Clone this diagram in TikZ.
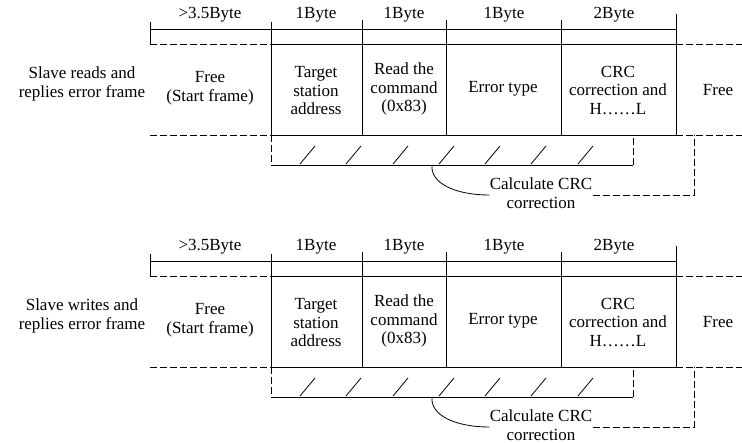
\documentclass[tikz,border=0pt]{standalone}
\usepackage{fontspec}
\setmainfont{Liberation Serif}
\usepackage{tikz}

\begin{document}
\begin{tikzpicture}[x=1pt,y=-1pt,line width=0.8pt,
    txt/.style={align=center,inner sep=0pt,font=\fontsize{17}{18.5}\selectfont},
    dsh/.style={dash pattern=on 7pt off 3pt}]
  \useasboundingbox (0,0) rectangle (742,443);
  \foreach \dy/\act/\n in {0/reads/a,232/writes/b}{
    \begin{scope}[shift={(0,\dy)}]
      % byte lengths
      \node[txt] (lenfree\n) at (210,15) {>3.5Byte};
      \node[txt] (lenaddr\n) at (316,15) {1Byte};
      \node[txt] (lencmd\n) at (404,15) {1Byte};
      \node[txt] (lenerr\n) at (504,15) {1Byte};
      \node[txt] (lencrc\n) at (614,15) {2Byte};
      % frame fields
      \node[txt] (title\n) at (82,84) {Slave \act\ and\\replies error frame};
      \node[txt] (start\n) at (210,88) {Free\\(Start frame)};
      \node[txt] (addr\n) at (316,91) {Target\\station\\address};
      \node[txt] (cmd\n) at (404,89) {Read the\\command\\(0x83)};
      \node[txt] (err\n) at (503,89) {Error type};
      \node[txt] (crc\n) at (618,90) {CRC\\correction and\\H……L};
      \node[txt] (end\n) at (718,90) {Free};
      \node[txt] (calc\n) at (541,193) {Calculate CRC\\correction};
      % grid
      \draw (150,29) -- (676,29);
      \draw (150,22) -- (150,44);
      \draw (271,22) -- (271,135);
      \draw (362,20) -- (362,135);
      \draw (446,20) -- (446,135);
      \draw (561,20) -- (561,135);
      \draw (676,14) -- (676,135);
      \draw (271,44) -- (676,44);
      \draw (271,135) -- (676,135);
      \draw[dsh] (150,44) -- (271,44);
      \draw[dsh] (676,44) -- (742,44);
      \draw[dsh] (150,135) -- (271,135);
      \draw[dsh] (676,135) -- (742,135);
      % checked range
      \draw[dsh] (271,135) -- (271,165);
      \draw (271,165) -- (633,165);
      \draw[dsh] (633,165) -- (633,135);
      \foreach \x in {300,346,393,439,485,531,578}
        \draw (\x,164) -- (\x+15,146);
      \draw (432,165) .. controls (430,183) and (455,195) .. (calc\n.west |- 0,195);
      \draw[dsh] (calc\n.east |- 0,195) -- (694,195) -- (694,135);
    \end{scope}
  }
\end{tikzpicture}
\end{document}
